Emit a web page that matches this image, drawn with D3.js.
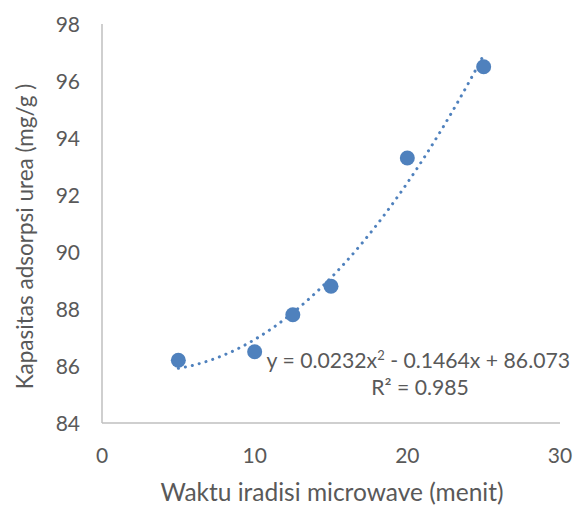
<!DOCTYPE html>
<html><head><meta charset="utf-8">
<script src="https://cdn.jsdelivr.net/npm/d3@7"></script>
<style>body{margin:0;background:#fff}text{font-family:Lato,sans-serif;fill:#595959}</style>
</head><body><svg id="c" width="581" height="505"></svg>
<script>
const xValues = [5, 10, 12.5, 15, 20, 25];
const yValues = [86.2, 86.5, 87.8, 88.8, 93.3, 96.5];
const xTicks = [0, 10, 20, 30];
const yTicks = [84, 86, 88, 90, 92, 94, 96, 98];
const coef = [0.0232, -0.1464, 86.073];
const eqLabel = "y = 0.0232x";
const eqRest = " - 0.1464x + 86.073";
const r2Label = "R² = 0.985";
const xTitle = "Waktu iradisi microwave (menit)";
const yTitle = "Kapasitas adsorpsi urea (mg/g )";

const svg = d3.select("#c");
const x = d3.scaleLinear().domain([0, 30]).range([102, 560]);
const y = d3.scaleLinear().domain([84, 98]).range([423, 24]);
const blue = "#4f81bd";

svg.append("line").attr("x1", x(0)).attr("x2", x(0)).attr("y1", y(98)).attr("y2", y(84)).attr("stroke", "#bfbfbf").attr("stroke-width", 1.5);
svg.append("line").attr("x1", x(0)).attr("x2", x(30)).attr("y1", y(84)).attr("y2", y(84)).attr("stroke", "#bfbfbf").attr("stroke-width", 1.5);

svg.selectAll(".yt").data(yTicks).join("text").attr("x", 80).attr("y", d => y(d)).attr("dy", "0.36em")
  .attr("text-anchor", "end").attr("font-size", 21).text(d => d);
svg.selectAll(".xt").data(xTicks).join("text").attr("x", d => x(d)).attr("y", 463)
  .attr("text-anchor", "middle").attr("font-size", 21).text(d => d);

svg.append("text").attr("x", 332).attr("y", 501).attr("text-anchor", "middle").attr("font-size", 24.5).text(xTitle);
svg.append("text").attr("transform", `translate(33,236.5) rotate(-90)`).attr("text-anchor", "middle").attr("font-size", 22.5).text(yTitle);

const f = t => coef[0]*t*t + coef[1]*t + coef[2];
const xs = d3.range(5, 25.001, 0.1);
svg.append("path").datum(xs).attr("d", d3.line().x(d => x(d)).y(d => y(f(d))))
  .attr("fill", "none").attr("stroke", blue).attr("stroke-width", 3).attr("stroke-linecap", "round").attr("stroke-dasharray", "0.1 7");

svg.selectAll("circle").data(xValues).join("circle").attr("cx", d => x(d)).attr("cy", (d, i) => y(yValues[i]))
  .attr("r", 7.5).attr("fill", blue);

const eq = svg.append("text").attr("x", 570).attr("y", 368).attr("text-anchor", "end").attr("font-size", 21.2);
eq.append("tspan").text(eqLabel);
eq.append("tspan").attr("dy", -8).attr("font-size", 13).text("2");
eq.append("tspan").attr("dy", 8).text(eqRest);
svg.append("text").attr("x", 420).attr("y", 395).attr("text-anchor", "middle").attr("font-size", 21.2).text(r2Label);
</script></body></html>
